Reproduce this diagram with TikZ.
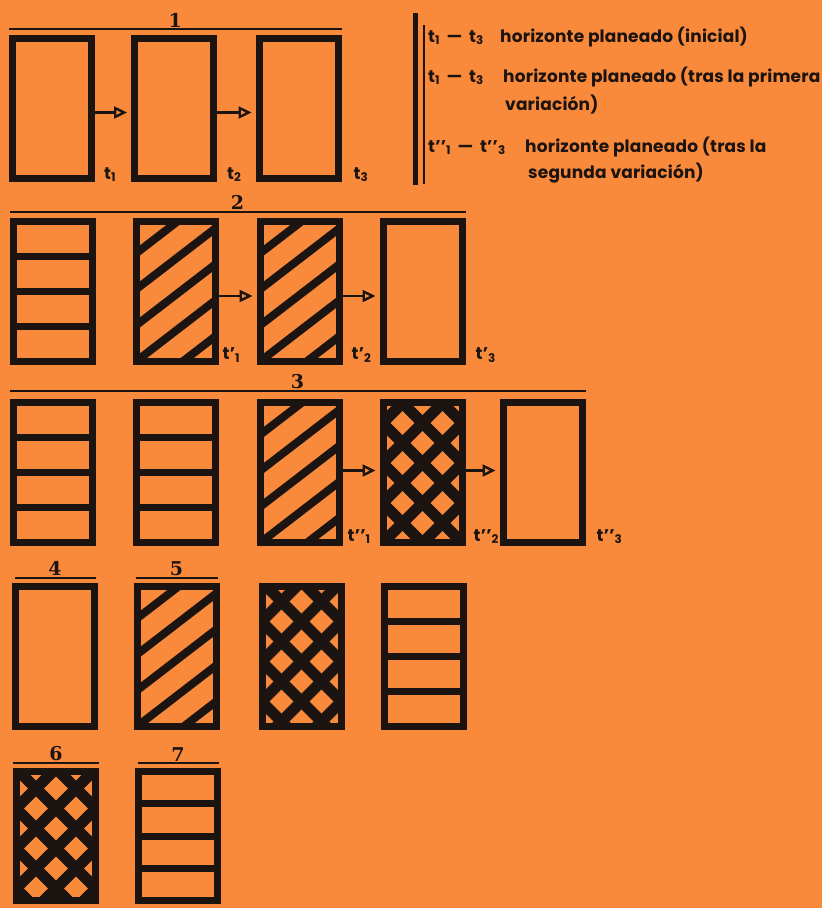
\documentclass[tikz,border=0pt]{standalone}
\usepackage{fontspec}
\usepackage{tikz}
\usetikzlibrary{arrows.meta,calc,positioning}
\newfontfamily\legfont[LetterSpace=1]{Poppins}
\newfontfamily\numfont{DejaVu Serif}
\definecolor{planorange}{HTML}{FA8A3B}
\definecolor{planink}{HTML}{1C1410}
\tikzset{
  plan/box/.style={draw=planink, line width=7pt, minimum width=79pt, minimum height=140pt, inner sep=0pt},
  plan/hbands/.style={path picture={
      \foreach \f in {0.25,0.5,0.75}
        \draw[planink, line width=7pt] ($(path picture bounding box.north west)!\f!(path picture bounding box.south west)$) -- ++(100,0);}},
  plan/diag/.style={path picture={
      \foreach \k in {-5,...,5}
        \draw[planink, line width=8pt] ($(path picture bounding box.center)+(-60,50.2+36*\k)$) -- ++(120,-92.4);}},
  plan/cross/.style={path picture={
      \foreach \k in {-6,...,6} {
        \draw[planink, line width=11pt] ($(path picture bounding box.center)+(-100,105.5+#1+40*\k)$) -- ++(200,-200);
        \draw[planink, line width=11pt] ($(path picture bounding box.center)+(-100,-94.5+#1+40*\k)$) -- ++(200,200);}}},
  plan/cross/.default=0,
  plan/arr/.style={draw=planink, line width=2.4pt, -{Triangle[open, length=13pt, width=12pt]}, shorten >=4pt},
  plan/over/.style={draw=planink, line width=2pt},
  plan/num/.style={font=\numfont\bfseries\fontsize{19}{19}\selectfont, text=planink, inner sep=1pt},
  plan/tlab/.style={font=\legfont\bfseries\fontsize{17}{17}\selectfont, text=planink, inner sep=0pt, anchor=base west},
  plan/leg/.style={font=\legfont\bfseries\fontsize{17}{17}\selectfont, text=planink, inner sep=0pt, anchor=base west}
}
\begin{document}
\begin{tikzpicture}[x=1pt, y=-1pt]
  \fill[planorange] (0,0) rectangle (822,908);
  \useasboundingbox (0,0) rectangle (822,908);

  % 1
  \node[plan/box] (b11) at (52,108.5) {};
  \node[plan/box] (b12) at (174,108.5) {};
  \node[plan/box] (b13) at (298.5,108.5) {};
  \draw[plan/arr] ([yshift=-4pt]b11.east) -- ([yshift=-4pt]b12.west);
  \draw[plan/arr] ([yshift=-4pt]b12.east) -- ([yshift=-4pt]b13.west);
  \draw[plan/over] ([yshift=6pt]b11.north west) -- node[plan/num, above] {1} ([yshift=6pt]b13.north east);
  \node[plan/tlab] at ([xshift=9pt,yshift=3pt]b11.south east) {t\textsubscript{1}};
  \node[plan/tlab] at ([xshift=10pt,yshift=3pt]b12.south east) {t\textsubscript{2}};
  \node[plan/tlab] at ([xshift=12pt,yshift=3pt]b13.south east) {t\textsubscript{3}};

  % 2
  \node[plan/box, plan/hbands] (b21) at (52.5,291) {};
  \node[plan/box, plan/diag] (b22) at (175.5,291) {};
  \node[plan/box, plan/diag] (b23) at (299.5,291) {};
  \node[plan/box] (b24) at (422.5,291) {};
  \draw[plan/arr] ([yshift=-5pt]b22.east) -- ([yshift=-5pt]b23.west);
  \draw[plan/arr] ([yshift=-5pt]b23.east) -- ([yshift=-5pt]b24.west);
  \draw[plan/over] ([yshift=6pt]b21.north west) -- node[plan/num, above] {2} ([yshift=6pt]b24.north east);
  \node[plan/tlab] at ([xshift=4pt,yshift=5pt]b22.south east) {t’\textsubscript{1}};
  \node[plan/tlab] at ([xshift=9pt,yshift=5pt]b23.south east) {t’\textsubscript{2}};
  \node[plan/tlab] at ([xshift=10pt,yshift=5pt]b24.south east) {t’\textsubscript{3}};

  % 3
  \node[plan/box, plan/hbands] (b31) at (52.5,472.5) {};
  \node[plan/box, plan/hbands] (b32) at (175.5,472.5) {};
  \node[plan/box, plan/diag] (b33) at (299.5,472.5) {};
  \node[plan/box, plan/cross=-15] (b34) at (422.5,472.5) {};
  \node[plan/box] (b35) at (542.5,472.5) {};
  \draw[plan/arr] ([yshift=2pt]b33.east) -- ([yshift=2pt]b34.west);
  \draw[plan/arr] ([yshift=2pt]b34.east) -- ([yshift=2pt]b35.west);
  \draw[plan/over] ([yshift=8pt]b31.north west) -- node[plan/num, above] {3} ([yshift=8pt]b35.north east);
  \node[plan/tlab] at ([xshift=5pt,yshift=5pt]b33.south east) {t’’\textsubscript{1}};
  \node[plan/tlab] at ([xshift=8pt,yshift=5pt]b34.south east) {t’’\textsubscript{2}};
  \node[plan/tlab] at ([xshift=11pt,yshift=5pt]b35.south east) {t’’\textsubscript{3}};

  % 4 y 5
  \node[plan/box] (b41) at (54.5,656) {};
  \node[plan/box, plan/diag] (b42) at (176.5,656) {};
  \node[plan/box, plan/cross] (b43) at (301.5,656) {};
  \node[plan/box, plan/hbands] (b44) at (423.5,656) {};
  \draw[plan/over] ([xshift=3pt,yshift=5pt]b41.north west) -- node[plan/num, above] {4} ([xshift=-2pt,yshift=5pt]b41.north east);
  \draw[plan/over] ([xshift=2pt,yshift=5pt]b42.north west) -- node[plan/num, above] {5} ([xshift=-2pt,yshift=5pt]b42.north east);

  % 6 y 7
  \node[plan/box, minimum height=129pt, plan/cross=7] (b51) at (56,836) {};
  \node[plan/box, minimum height=129pt, plan/hbands] (b52) at (177.5,836) {};
  \draw[plan/over] ([yshift=5pt]b51.north west) -- node[plan/num, above] {6} ([yshift=5pt]b51.north east);
  \draw[plan/over] ([xshift=3pt,yshift=5pt]b52.north west) -- node[plan/num, above] {7} ([xshift=-2pt,yshift=5pt]b52.north east);

  % leyenda
  \draw[planink, line width=5pt] (415,13) -- (415,185);
  \draw[planink, line width=2pt] (424,25) -- (424,184);
  \node[plan/leg] (k1) at (428,42) {t\textsubscript{1} \,—\, t\textsubscript{3}};
  \node[plan/leg] (d1) at (500,42) {horizonte planeado (inicial)};
  \node[plan/leg] (k2) at (428,82) {t\textsubscript{1} \,—\, t\textsubscript{3}};
  \node[plan/leg] (d2) at (503,82) {horizonte planeado (tras la primera};
  \node[plan/leg] (d2b) at (505,110) {variación)};
  \node[plan/leg] (k3) at (428,152) {t’’\textsubscript{1} \,—\, t’’\textsubscript{3}};
  \node[plan/leg] (d3) at (525,152) {horizonte planeado (tras la};
  \node[plan/leg] (d3b) at (528,178) {segunda variación)};
\end{tikzpicture}
\end{document}
